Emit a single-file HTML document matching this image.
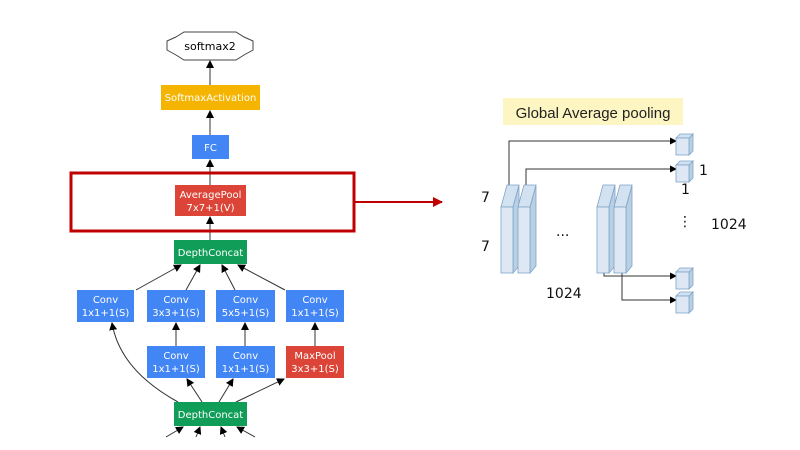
<!DOCTYPE html>
<html><head><style>
html,body{margin:0;padding:0;background:#fff;}
svg{display:block;}
text{font-family:"DejaVu Sans","Liberation Sans",sans-serif;}
</style></head><body>
<svg width="800" height="450" viewBox="0 0 800 450" xmlns="http://www.w3.org/2000/svg">
<defs>
<marker id="a" markerWidth="8" markerHeight="8" refX="7" refY="4" orient="auto" markerUnits="userSpaceOnUse"><path d="M0,0 L8,4 L0,8 z" fill="#000"/></marker>
<marker id="b" markerWidth="10" markerHeight="10" refX="9" refY="5" orient="auto" markerUnits="userSpaceOnUse"><path d="M0,0 L10,5 L0,10 z" fill="#c00000"/></marker>
<marker id="c" markerWidth="7" markerHeight="7" refX="6" refY="3.5" orient="auto" markerUnits="userSpaceOnUse"><path d="M0,0 L7,3.5 L0,7 z" fill="#000"/></marker>
</defs>
<g stroke="#333" stroke-width="1" fill="none" marker-end="url(#a)">
<line x1="210" y1="85" x2="210" y2="61"/>
<line x1="210" y1="135" x2="210" y2="111"/>
<line x1="210" y1="185" x2="210" y2="160"/>
<line x1="210" y1="240" x2="210" y2="217"/>
<line x1="136" y1="290" x2="181" y2="265"/>
<line x1="186" y1="290" x2="200" y2="265"/>
<line x1="235" y1="290" x2="222" y2="265"/>
<line x1="285" y1="290" x2="238" y2="265"/>
<line x1="176" y1="346" x2="176" y2="323"/>
<line x1="245" y1="346" x2="245" y2="323"/>
<line x1="315" y1="346" x2="315" y2="323"/>
<path d="M178,402 Q120,370 112,323"/>
<line x1="202" y1="402" x2="187" y2="379"/>
<line x1="219" y1="402" x2="233" y2="379"/>
<line x1="236" y1="402" x2="284" y2="379"/>
<line x1="166" y1="437" x2="183" y2="427"/>
<line x1="196" y1="437" x2="200" y2="427"/>
<line x1="225" y1="437" x2="221" y2="427"/>
<line x1="255" y1="437" x2="237" y2="427"/>
</g>
<polygon points="176,37 184,32 236,32 244,37 253,41 253,50 244,55 236,60 184,60 176,55 167,50 167,41" fill="#fff" stroke="#444"/>
<polygon points="176,37 184,32 236,32 244,37 253,41 253,51 244,55 236,60 184,60 176,55 167,51 167,41" fill="none" stroke="none"/>
<text x="210" y="50" font-size="11" text-anchor="middle" fill="#000">softmax2</text>
<g font-size="10" fill="#fff" text-anchor="middle">
<rect x="161" y="85" width="99" height="25" fill="#f4b400"/><text x="210.5" y="101">SoftmaxActivation</text>
<rect x="192" y="135" width="37" height="24" fill="#4285f4"/><text x="210.5" y="151">FC</text>
<rect x="175" y="185" width="71" height="31" fill="#db4437"/><text x="210.5" y="198">AveragePool</text><text x="210.5" y="211">7x7+1(V)</text>
<rect x="174" y="240" width="73" height="24" fill="#0f9d58"/><text x="210.5" y="256">DepthConcat</text>
<rect x="77" y="290" width="57" height="32" fill="#4285f4"/><text x="105.5" y="303">Conv</text><text x="105.5" y="316">1x1+1(S)</text>
<rect x="147" y="290" width="58" height="32" fill="#4285f4"/><text x="176" y="303">Conv</text><text x="176" y="316">3x3+1(S)</text>
<rect x="216" y="290" width="59" height="32" fill="#4285f4"/><text x="245.5" y="303">Conv</text><text x="245.5" y="316">5x5+1(S)</text>
<rect x="286" y="290" width="58" height="32" fill="#4285f4"/><text x="315" y="303">Conv</text><text x="315" y="316">1x1+1(S)</text>
<rect x="147" y="346" width="58" height="32" fill="#4285f4"/><text x="176" y="359">Conv</text><text x="176" y="372">1x1+1(S)</text>
<rect x="216" y="346" width="59" height="32" fill="#4285f4"/><text x="245.5" y="359">Conv</text><text x="245.5" y="372">1x1+1(S)</text>
<rect x="286" y="346" width="58" height="32" fill="#db4437"/><text x="315" y="359">MaxPool</text><text x="315" y="372">3x3+1(S)</text>
<rect x="174" y="402" width="73" height="24" fill="#0f9d58"/><text x="210.5" y="418">DepthConcat</text>
</g>
<rect x="71" y="173" width="283" height="58" fill="none" stroke="#c00000" stroke-width="3"/>
<line x1="355" y1="202" x2="442" y2="202" stroke="#c00000" stroke-width="2" marker-end="url(#b)"/>
<rect x="503" y="98" width="180" height="27" fill="#fdf6c3"/>
<text x="593" y="118" font-size="15" text-anchor="middle" fill="#222" style="font-family:'Liberation Sans',sans-serif">Global Average pooling</text>
<g stroke="#333" stroke-width="1" fill="none" marker-end="url(#c)">
<polyline points="509,186 509,141 676,141"/>
<polyline points="526,186 526,169 676,169"/>
<polyline points="604,273 604,276 676,276"/>
<polyline points="622,273 622,300 676,300"/>
</g>
<g stroke="#7fa4c8" stroke-width="0.8">
<g id="s"><polygon points="513,207 519,185 519,266 513,273" fill="#b9cfe4"/><polygon points="501,207 507,185 519,185 513,207" fill="#d3e2f1"/><rect x="501" y="207" width="12" height="66" fill="#dde8f4"/></g>
<use href="#s" x="17"/><use href="#s" x="96"/><use href="#s" x="113"/>
<g id="k"><polygon points="689,138 693,134 693,151 689,155" fill="#b9cfe4"/><polygon points="676,138 680,134 693,134 689,138" fill="#d3e2f1"/><rect x="676" y="138" width="13" height="17" fill="#dde8f4"/></g>
<use href="#k" y="27"/><use href="#k" y="134"/><use href="#k" y="158"/>
</g>
<g font-size="14" fill="#111" style="font-family:'Liberation Sans',sans-serif">
<text x="481" y="202">7</text><text x="481" y="251">7</text>
<text x="556" y="236">...</text>
<text x="546" y="298">1024</text>
<text x="699" y="175">1</text><text x="681" y="194">1</text>
<text x="678" y="226">⋮</text>
<text x="711" y="229">1024</text>
</g>
</svg>
</body></html>
